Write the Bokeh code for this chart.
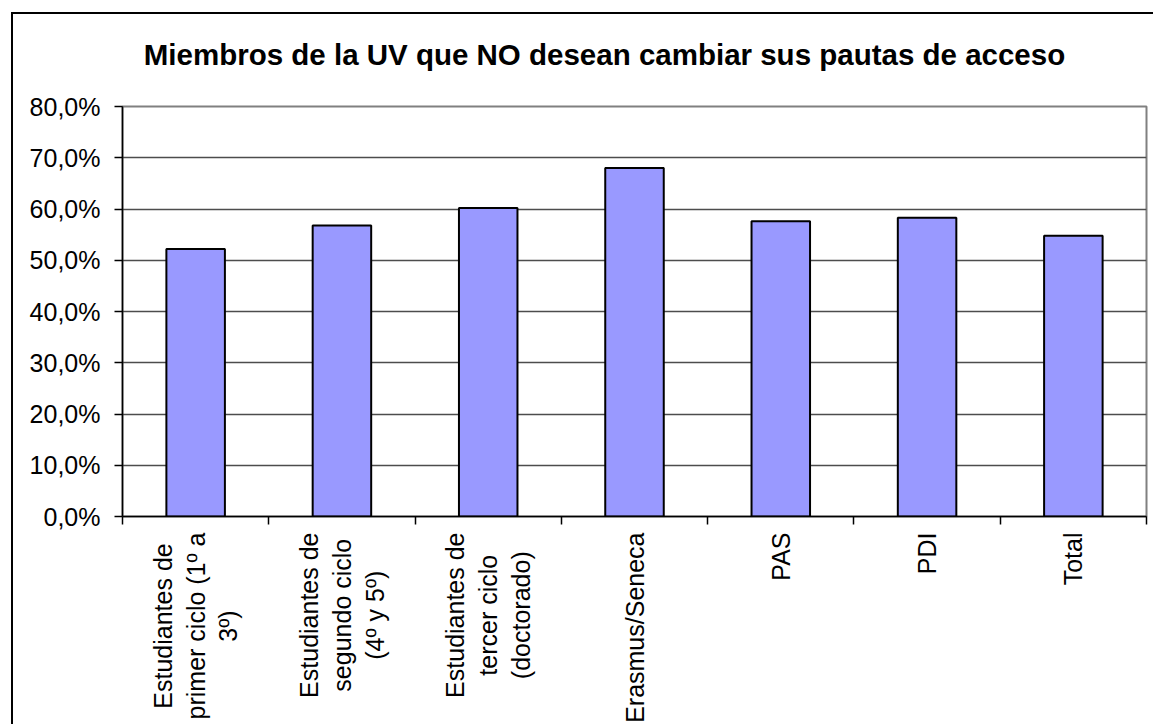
import math
from bokeh.plotting import figure
from bokeh.layouts import column
from bokeh.models import Range1d, FixedTicker, ColumnDataSource
from bokeh.core.properties import value
from bokeh.embed import file_html
from bokeh.resources import INLINE

# ---- data ----
categories = [
    "Estudiantes de\nprimer ciclo (1º a\n3º)",
    "Estudiantes de\nsegundo ciclo\n(4º y 5º)",
    "Estudiantes de\ntercer ciclo\n(doctorado)",
    "Erasmus/Seneca",
    "PAS",
    "PDI",
    "Total",
]
values = [52.2, 56.8, 60.2, 68.0, 57.6, 58.3, 54.8]
y_ticks = [0, 10, 20, 30, 40, 50, 60, 70, 80]
y_tick_labels = ["0,0%", "10,0%", "20,0%", "30,0%", "40,0%", "50,0%", "60,0%", "70,0%", "80,0%"]
title_text = "Miembros de la UV que NO desean cambiar sus pautas de acceso"

n = len(categories)
centers = [i + 0.5 for i in range(n)]
boundaries = list(range(n + 1))

FONT = "Liberation Sans"
W = 1140
H0 = 76    # title strip
H1 = 442   # chart
H2 = 192   # category labels strip
TITLE_BASELINE = 36  # px from bottom of the title strip

x_range = Range1d(0, n)

# ---- title strip ----
p0 = figure(width=W, height=H0, output_backend="svg", toolbar_location=None,
            x_range=Range1d(0, 1), y_range=Range1d(0, H0),
            x_axis_location=None, y_axis_location=None,
            min_border_left=0, min_border_right=0, min_border_top=0, min_border_bottom=0)
p0.grid.visible = False
p0.outline_line_color = None
p0.background_fill_color = "white"
p0.border_fill_color = "white"
p0.text(x=[0.5], y=[TITLE_BASELINE], text=[title_text], x_offset=-30,
        text_align="center", text_baseline="alphabetic",
        text_font=value(FONT), text_font_size=value("29.5px"),
        text_font_style="bold", text_color="black")

# ---- main chart ----
p = figure(width=W, height=H1, output_backend="svg", toolbar_location=None,
           x_range=x_range, y_range=Range1d(y_ticks[0], y_ticks[-1]),
           min_border_left=109, min_border_right=7, min_border_top=16, min_border_bottom=16)

p.background_fill_color = "white"
p.border_fill_color = "white"
p.outline_line_color = "#808080"
p.outline_line_width = 2

p.yaxis.ticker = FixedTicker(ticks=y_ticks)
p.yaxis.major_label_overrides = dict(zip(y_ticks, y_tick_labels))
p.yaxis.major_label_text_font = FONT
p.yaxis.major_label_text_font_size = "25px"
p.yaxis.major_label_text_color = "black"
p.yaxis.major_tick_out = 8
p.yaxis.major_tick_in = 0
p.yaxis.minor_tick_line_color = None
p.yaxis.axis_line_color = "black"
p.yaxis.axis_line_width = 1.5
p.yaxis.major_tick_line_color = "black"
p.yaxis.major_tick_line_width = 1.5
p.yaxis.major_label_standoff = 14

p.xaxis.ticker = FixedTicker(ticks=boundaries)
p.xaxis.major_label_overrides = {b: "" for b in boundaries}
p.xaxis.major_label_text_font_size = "1px"
p.xaxis.major_label_standoff = 0
p.xaxis.major_tick_out = 8
p.xaxis.major_tick_in = 0
p.xaxis.minor_tick_line_color = None
p.xaxis.axis_line_color = "black"
p.xaxis.axis_line_width = 1.5
p.xaxis.major_tick_line_color = "black"
p.xaxis.major_tick_line_width = 1.5

p.xgrid.visible = False
p.ygrid.ticker = FixedTicker(ticks=y_ticks)
p.ygrid.grid_line_color = "#4d4d4d"
p.ygrid.grid_line_width = 1.5

src = ColumnDataSource(dict(x=centers, top=values))
p.vbar(x="x", top="top", bottom=0, width=0.4, source=src,
       fill_color="#9999FF", line_color="black", line_width=2)

# ---- category labels strip (shares x range) ----
lab_y_range = Range1d(-1, 0)
p2 = figure(width=W, height=H2, output_backend="svg", toolbar_location=None,
            x_range=x_range, y_range=lab_y_range,
            x_axis_location=None, y_axis_location=None,
            min_border_left=109, min_border_right=7, min_border_top=0, min_border_bottom=0)
p2.grid.visible = False
p2.outline_line_color = None
p2.background_fill_color = "white"
p2.border_fill_color = "white"

lab_src = ColumnDataSource(dict(x=centers, y=[lab_y_range.end] * n, text=categories))
p2.text(x="x", y="y", text="text", source=lab_src, angle=math.pi / 2,
        anchor="center_right", text_align="center",
        text_font=value(FONT), text_font_size=value("25px"),
        text_color="black", text_line_height=1.17)

layout = column(p0, p, p2, spacing=0)
layout.styles = {"margin-left": "11px", "margin-top": "12px",
                 "border-left": "2px solid black", "border-top": "2px solid black"}

open("out.html", "w").write(file_html(layout, INLINE))
